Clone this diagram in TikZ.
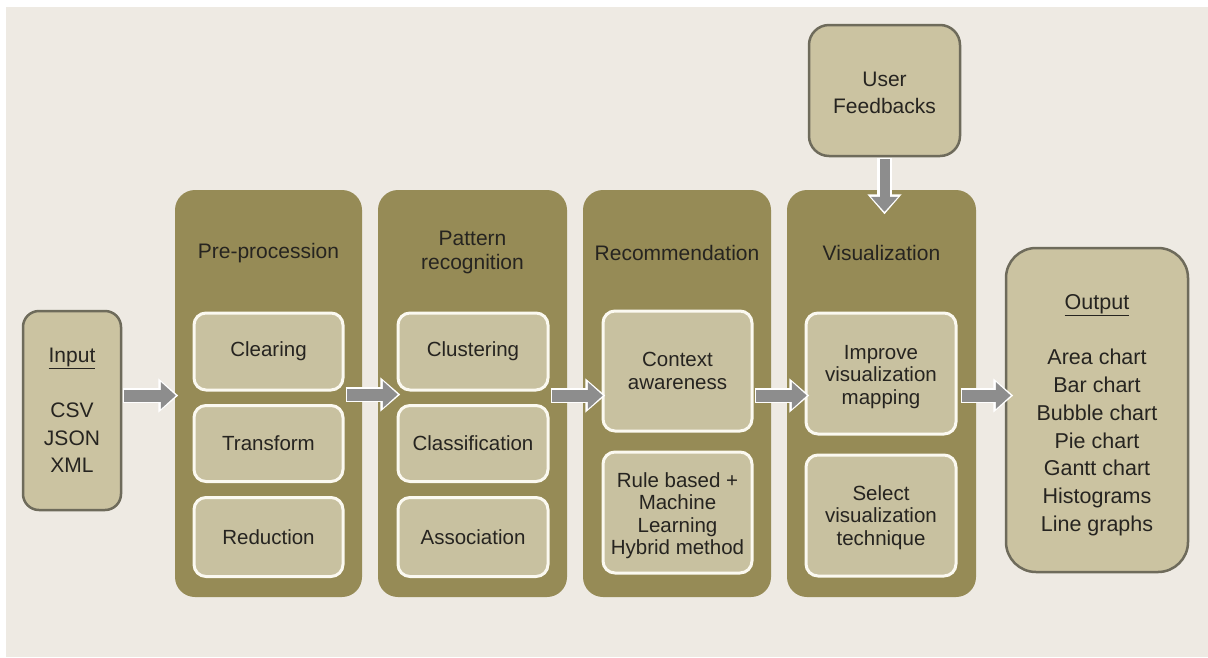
\documentclass[tikz,border=0pt]{standalone}
\usepackage{fontspec}
\setmainfont{Liberation Sans}
\usetikzlibrary{arrows.meta,calc}
\definecolor{paper}{HTML}{EEEAE3}
\definecolor{olivebox}{HTML}{968B56}
\definecolor{innerfill}{HTML}{C8C1A0}
\definecolor{innerline}{HTML}{FBF9F0}
\definecolor{endfill}{HTML}{CBC3A1}
\definecolor{endline}{HTML}{6E6B5B}
\definecolor{arrowgray}{HTML}{8D8D8D}
\definecolor{ink}{HTML}{262420}
% invisible strut: a taller first line moves a text block down in its box
\newcommand{\firstlinestrut}[1]{\rule{0pt}{#1}}
\begin{document}
\begin{tikzpicture}[x=1pt,y=-1pt,
  stagebox/.style={fill=olivebox, rounded corners=20pt, inner sep=0pt,
    minimum width=188pt, minimum height=407pt},
  stagetitle/.style={align=center, text=ink, inner sep=0pt,
    font=\fontsize{21}{24}\selectfont},
  innerbox/.style={fill=innerfill, draw=innerline, line width=3pt,
    rounded corners=12pt, align=center, text=ink, inner sep=2pt,
    minimum width=149pt, font=\fontsize{20.5}{22.5}\selectfont},
  endbox/.style={fill=endfill, draw=endline, line width=2.5pt,
    align=center, text=ink, inner sep=2pt},
  flow/.style={draw=arrowgray, line width=12pt,
    -{Triangle[length=15pt,width=26pt]},
    preaction={draw=white, line width=15pt,
      -{Triangle[length=20pt,width=33pt]},
      shorten >=-2.5pt, shorten <=-1.5pt}}]

\useasboundingbox (0,0) rectangle (1208,657);
\fill[white] (0,0) rectangle (1208,657);
\fill[paper] (6,7) rectangle (1208,657);

% source and sink
\node[endbox, rounded corners=16pt, minimum width=98pt, minimum height=199pt,
  font=\fontsize{21}{27.5}\selectfont] (input) at (72,410.5)
  {\underline{Input}\\[27.5pt]CSV\\JSON\\XML};
\node[endbox, rounded corners=30pt, minimum width=182pt, minimum height=324pt,
  font=\fontsize{21.5}{27.8}\selectfont] (output) at (1097,410)
  {\firstlinestrut{25pt}\underline{Output}\\[27.8pt]Area chart\\Bar chart\\Bubble chart\\Pie chart\\Gantt chart\\Histograms\\Line graphs};
\node[endbox, rounded corners=20pt, minimum width=151pt, minimum height=131pt,
  font=\fontsize{21}{27}\selectfont] (feedback) at (884.5,90.5)
  {\firstlinestrut{19.5pt}User\\Feedbacks};

% processing stages
\node[stagebox, minimum width=187pt] (s1) at (268.5,393.5) {};
\node[stagebox, minimum width=189pt] (s2) at (472.5,393.5) {};
\node[stagebox] (s3) at (677,393.5) {};
\node[stagebox, minimum width=189pt] (s4) at (881.5,393.5) {};

\node[stagetitle] (t1) at ($(s1.north)+(0,63)$) {Pre-procession};
\node[stagetitle] (t2) at ($(s2.north)+(0,63)$) {Pattern\\recognition};
\node[stagetitle] (t3) at ($(s3.north)+(0,63)$) {Recommendation};
\node[stagetitle] (t4) at ($(s4.north)+(0,63)$) {Visualization};

% steps inside each stage
\node[innerbox, minimum height=77pt] (clearing) at (268.5,351.5) {Clearing};
\node[innerbox, minimum height=76pt] (transform) at (268.5,443.5) {Transform};
\node[innerbox, minimum height=79pt] (reduction) at (268.5,537) {Reduction};

\node[innerbox, minimum width=150pt, minimum height=77pt] (clustering) at (473,351.5) {Clustering};
\node[innerbox, minimum width=150pt, minimum height=76pt] (classification) at (473,443.5) {Classification};
\node[innerbox, minimum width=150pt, minimum height=79pt] (association) at (473,537) {Association};

\node[innerbox, minimum height=120pt] (context) at (677.5,371) {Context\\awareness};
\node[innerbox, minimum height=121pt] (hybrid) at (677.5,512.5)
  {\firstlinestrut{21pt}Rule based +\\Machine\\Learning\\Hybrid method};

\node[innerbox, minimum width=150pt, minimum height=121pt] (mapping) at (881,373.5)
  {\firstlinestrut{21pt}Improve\\visualization\\mapping};
\node[innerbox, minimum width=150pt, minimum height=121pt] (technique) at (881,515.5)
  {\firstlinestrut{19pt}Select\\visualization\\technique};

% data flow
\draw[flow] ($(input.east |- s1.west)+(2,2)$) -- ($(s1.west)+(1,2)$);
\draw[flow] ($(s1.east)+(-15,1)$) -- ($(s2.west)+(20,1)$);
\draw[flow] ($(s2.east)+(-15,2)$) -- ($(s3.west)+(20,2)$);
\draw[flow] ($(s3.east)+(-15,2)$) -- ($(s4.west)+(20,2)$);
\draw[flow] ($(s4.east)+(-14,2)$) -- ($(output.west |- s4.east)+(6,2)$);
\draw[flow, line width=10pt] ($(feedback.south)+(0,2)$) -- ($(feedback.south |- s4.north)+(0,22)$);

\end{tikzpicture}
\end{document}
